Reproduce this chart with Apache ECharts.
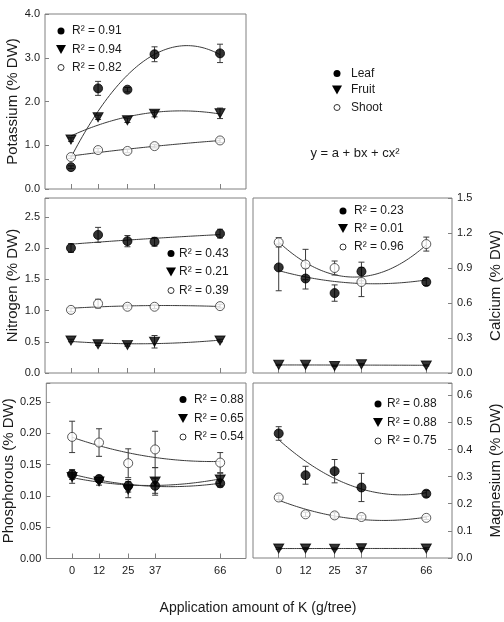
<!DOCTYPE html>
<html>
<head>
<meta charset="utf-8">
<script src="https://cdn.jsdelivr.net/npm/echarts@6.0.0/dist/echarts.min.js"></script>
<style>
  html, body { margin: 0; padding: 0; background: #fff; }
  #chart { width: 504px; height: 622px; }
</style>
</head>
<body>
<div id="chart"></div>
<script>
// application amount of K (g/tree)
const doses = [0, 12, 25, 37, 66];

// Potassium (% DW)
const kLeaf = [0.5, 2.3, 2.27, 3.08, 3.1];
const kLeafSe = [0.03, 0.16, 0.05, 0.17, 0.21];
const kFruit = [1.13, 1.64, 1.57, 1.72, 1.73];
const kFruitSe = [0.04, 0.05, 0.05, 0.07, 0.12];
const kShoot = [0.73, 0.89, 0.87, 0.98, 1.11];
const kShootSe = [0.03, 0.04, 0.04, 0.04, 0.05];
const kR2 = ["0.91", "0.94", "0.82"];

// Nitrogen (% DW)
const nLeaf = [2.0, 2.21, 2.11, 2.1, 2.23];
const nLeafSe = [0.07, 0.12, 0.09, 0.07, 0.07];
const nFruit = [0.52, 0.46, 0.45, 0.5, 0.52];
const nFruitSe = [0.02, 0.02, 0.02, 0.1, 0.02];
const nShoot = [1.01, 1.11, 1.06, 1.06, 1.07];
const nShootSe = [0.03, 0.07, 0.03, 0.03, 0.03];
const nR2 = ["0.43", "0.21", "0.39"];

// Calcium (% DW)
const caLeaf = [0.905, 0.81, 0.685, 0.87, 0.78];
const caLeafSe = [0.2, 0.09, 0.07, 0.08, 0.03];
const caFruit = [0.07, 0.07, 0.06, 0.075, 0.065];
const caFruitSe = [0.005, 0.005, 0.005, 0.005, 0.005];
const caShoot = [1.12, 0.93, 0.9, 0.78, 1.105];
const caShootSe = [0.04, 0.13, 0.06, 0.125, 0.06];
const caR2 = ["0.23", "0.01", "0.96"];

// Phosphorous (% DW)
const pLeaf = [0.134, 0.127, 0.116, 0.116, 0.12];
const pLeafSe = [0.008, 0.005, 0.01, 0.012, 0.006];
const pFruit = [0.13, 0.123, 0.11, 0.123, 0.126];
const pFruitSe = [0.01, 0.006, 0.013, 0.022, 0.01];
const pShoot = [0.194, 0.185, 0.152, 0.174, 0.153];
const pShootSe = [0.025, 0.022, 0.023, 0.029, 0.016];
const pR2 = ["0.88", "0.65", "0.54"];

// Magnesium (% DW)
const mgLeaf = [0.459, 0.305, 0.32, 0.26, 0.237];
const mgLeafSe = [0.025, 0.033, 0.043, 0.052, 0.012];
const mgFruit = [0.035, 0.035, 0.034, 0.036, 0.035];
const mgFruitSe = [0.003, 0.003, 0.003, 0.003, 0.003];
const mgShoot = [0.223, 0.161, 0.157, 0.151, 0.148];
const mgShootSe = [0.008, 0.008, 0.01, 0.006, 0.006];
const mgR2 = ["0.88", "0.88", "0.75"];

const FONT = "'Liberation Sans', Arial, sans-serif";
const FRAME = "#808080";
const INK = "#1a1a1a";

// least squares y = a + bx + cx^2
function quadFit(xs, ys) {
  let s = [0, 0, 0, 0, 0], t = [0, 0, 0];
  xs.forEach((x, i) => {
    for (let k = 0; k < 5; k++) s[k] += Math.pow(x, k);
    for (let k = 0; k < 3; k++) t[k] += Math.pow(x, k) * ys[i];
  });
  let m = [
    [s[0], s[1], s[2], t[0]],
    [s[1], s[2], s[3], t[1]],
    [s[2], s[3], s[4], t[2]]
  ];
  for (let i = 0; i < 3; i++) {
    for (let j = i + 1; j < 3; j++) {
      let f = m[j][i] / m[i][i];
      for (let k = i; k < 4; k++) m[j][k] -= f * m[i][k];
    }
  }
  let c = m[2][3] / m[2][2];
  let b = (m[1][3] - m[1][2] * c) / m[1][1];
  let a = (m[0][3] - m[0][1] * b - m[0][2] * c) / m[0][0];
  return [a, b, c];
}

function fitLine(ys) {
  const [a, b, c] = quadFit(doses, ys);
  let pts = [];
  for (let x = doses[0]; x <= doses[doses.length - 1]; x += 1) {
    pts.push([x, a + b * x + c * x * x]);
  }
  return pts;
}

const panels = [
  { left: 45, top: 14, height: 175, max: 4.0, interval: 1.0, digits: 1, name: "Potassium (% DW)", side: "left", xLabels: false,
    leaf: kLeaf, leafSe: kLeafSe, fruit: kFruit, fruitSe: kFruitSe, shoot: kShoot, shootSe: kShootSe },
  { left: 45, top: 198, height: 175, max: 2.8, interval: 0.5, digits: 1, name: "Nitrogen (% DW)", side: "left", xLabels: false,
    leaf: nLeaf, leafSe: nLeafSe, fruit: nFruit, fruitSe: nFruitSe, shoot: nShoot, shootSe: nShootSe },
  { left: 253, top: 198, height: 175, max: 1.5, interval: 0.3, digits: 1, name: "Calcium (% DW)", side: "right", xLabels: false,
    leaf: caLeaf, leafSe: caLeafSe, fruit: caFruit, fruitSe: caFruitSe, shoot: caShoot, shootSe: caShootSe },
  { left: 45, top: 383, height: 175.5, max: 0.28, interval: 0.05, digits: 2, name: "Phosphorous (% DW)", side: "left", xLabels: true,
    leaf: pLeaf, leafSe: pLeafSe, fruit: pFruit, fruitSe: pFruitSe, shoot: pShoot, shootSe: pShootSe },
  { left: 253, top: 383, height: 175, max: 0.645, interval: 0.1, digits: 1, name: "Magnesium (% DW)", side: "right", xLabels: true,
    leaf: mgLeaf, leafSe: mgLeafSe, fruit: mgFruit, fruitSe: mgFruitSe, shoot: mgShoot, shootSe: mgShootSe }
];

const grids = [], xAxes = [], yAxes = [], series = [];

function errSeries(i, ys, se) {
  return {
    type: "custom",
    xAxisIndex: i,
    yAxisIndex: i,
    z: 3,
    silent: true,
    data: doses.map((x, k) => [x, ys[k], se[k]]),
    encode: { x: 0, y: 1 },
    renderItem: function (params, api) {
      const x = api.value(0), y = api.value(1), e = api.value(2);
      const hi = api.coord([x, y + e]);
      const lo = api.coord([x, y - e]);
      const st = { stroke: "#3a3a3a", lineWidth: 1 };
      return {
        type: "group",
        children: [
          { type: "line", shape: { x1: hi[0], y1: hi[1], x2: lo[0], y2: lo[1] }, style: st },
          { type: "line", shape: { x1: hi[0] - 3, y1: hi[1], x2: hi[0] + 3, y2: hi[1] }, style: st },
          { type: "line", shape: { x1: lo[0] - 3, y1: lo[1], x2: lo[0] + 3, y2: lo[1] }, style: st }
        ]
      };
    }
  };
}

panels.forEach((p, i) => {
  grids.push({
    left: p.left, top: p.top, width: p.side === "left" ? 201 : 200, height: p.height,
    show: true, borderColor: FRAME, borderWidth: 1, backgroundColor: "transparent"
  });
  xAxes.push({
    type: "value", gridIndex: i, min: -11.5, max: 77.5,
    axisLine: { show: false, onZero: false },
    splitLine: { show: false },
    axisTick: { show: true, inside: true, length: 5, customValues: doses, lineStyle: { color: FRAME } },
    axisLabel: { show: p.xLabels, customValues: doses, margin: 7, color: INK, fontSize: 11, fontFamily: FONT }
  });
  yAxes.push({
    type: "value", gridIndex: i, min: 0, max: p.max, interval: p.interval,
    position: p.side,
    name: p.name, nameLocation: "middle", nameGap: p.side === "left" ? 25 : 36,
    nameTextStyle: { fontSize: 15, color: INK, fontFamily: FONT },
    axisLine: { show: false, onZero: false },
    splitLine: { show: false },
    axisTick: { show: true, inside: true, length: 4, lineStyle: { color: FRAME } },
    axisLabel: {
      margin: 5, color: INK, fontSize: 11, fontFamily: FONT,
      formatter: function (v) {
        const r = v / p.interval;
        if (Math.abs(r - Math.round(r)) > 1e-6) return "";
        return v.toFixed(p.digits);
      }
    }
  });

  const groups = [
    { ys: p.leaf, se: p.leafSe, symbol: "circle", size: 9, rot: 0, fill: "#000", stroke: "#000" },
    { ys: p.fruit, se: p.fruitSe, symbol: "triangle", size: [10, 9], rot: 180, fill: "#000", stroke: "#000" },
    { ys: p.shoot, se: p.shootSe, symbol: "circle", size: 9, rot: 0, fill: "#fff", stroke: "#333" }
  ];
  groups.forEach(g => {
    series.push({
      type: "line", xAxisIndex: i, yAxisIndex: i, data: fitLine(g.ys),
      showSymbol: false, silent: true, z: 2,
      lineStyle: { color: "#3a3a3a", width: 1 }
    });
    series.push(errSeries(i, g.ys, g.se));
  });
  groups.forEach(g => {
    series.push({
      type: "scatter", xAxisIndex: i, yAxisIndex: i, z: 4,
      data: doses.map((x, k) => [x, g.ys[k]]),
      symbol: g.symbol, symbolSize: g.size, symbolRotate: g.rot,
      itemStyle: { color: g.fill, borderColor: g.stroke, borderWidth: 1 }
    });
  });
});

// small key markers for the R^2 boxes and the main legend
function keyMarker(kind, cx, cy) {
  if (kind === 0) return { type: "circle", shape: { cx: cx, cy: cy, r: 3.5 }, style: { fill: "#000" } };
  if (kind === 1) return { type: "polygon", shape: { points: [[cx - 5, cy - 4.5], [cx + 5, cy - 4.5], [cx, cy + 4.5]] }, style: { fill: "#000" } };
  return { type: "circle", shape: { cx: cx, cy: cy, r: 3 }, style: { fill: "#fff", stroke: "#333", lineWidth: 1 } };
}

const r2Boxes = [
  { r2: kR2, mx: 61, tx: 72, rows: [31, 49.5, 67.5] },
  { r2: nR2, mx: 171, tx: 179, rows: [253.5, 272, 290.5] },
  { r2: caR2, mx: 343, tx: 354, rows: [211, 228.5, 247] },
  { r2: pR2, mx: 183, tx: 194, rows: [399.5, 418.5, 437] },
  { r2: mgR2, mx: 378, tx: 387, rows: [404, 422.5, 441] }
];

const graphics = [];
r2Boxes.forEach(b => {
  b.rows.forEach((y, k) => {
    graphics.push(keyMarker(k, b.mx, y));
    graphics.push({
      type: "text", x: b.tx, y: y,
      style: { text: "R\u00b2 = " + b.r2[k], fill: INK, font: "12px " + FONT, verticalAlign: "middle", align: "left" }
    });
  });
});

const tissues = ["Leaf", "Fruit", "Shoot"];
const legendRows = [73.5, 90, 107.5];
tissues.forEach((t, k) => {
  graphics.push(keyMarker(k, 337, legendRows[k]));
  graphics.push({
    type: "text", x: 351, y: legendRows[k],
    style: { text: t, fill: INK, font: "12px " + FONT, verticalAlign: "middle", align: "left" }
  });
});

graphics.push({
  type: "text", x: 355, y: 153,
  style: { text: "y = a + bx + cx\u00b2", fill: INK, font: "13px " + FONT, verticalAlign: "middle", align: "center" }
});
graphics.push({
  type: "text", x: 258, y: 608,
  style: { text: "Application amount of K (g/tree)", fill: INK, font: "14px " + FONT, verticalAlign: "middle", align: "center" }
});

const chart = echarts.init(document.getElementById("chart"), null, { renderer: "canvas" });
chart.setOption({
  animation: false,
  backgroundColor: "#fff",
  grid: grids,
  xAxis: xAxes,
  yAxis: yAxes,
  series: series,
  graphic: graphics
});
</script>
</body>
</html>
